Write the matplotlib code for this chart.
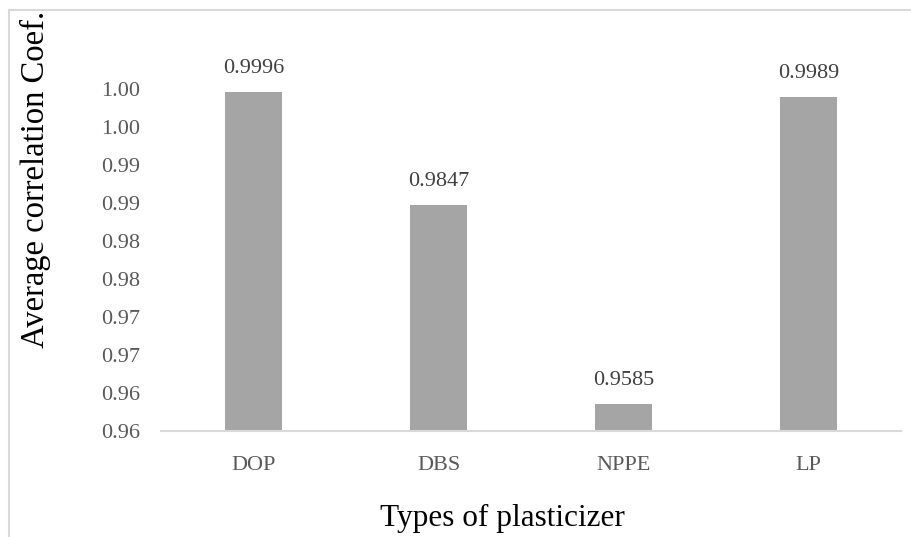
import matplotlib
matplotlib.use("Agg")
import matplotlib.pyplot as plt
from matplotlib.lines import Line2D

categories = ["DOP", "DBS", "NPPE", "LP"]
values = [0.9996, 0.9847, 0.9585, 0.9989]
value_labels = ["0.9996", "0.9847", "0.9585", "0.9989"]
y_ticks = [0.955, 0.960, 0.965, 0.970, 0.975, 0.980, 0.985, 0.990, 0.995, 1.000]
y_tick_labels = ["0.96", "0.96", "0.97", "0.97", "0.98", "0.98", "0.99", "0.99", "1.00", "1.00"]

W, H = 911, 537
fig = plt.figure(figsize=(W / 100, H / 100), dpi=100)
fig.patch.set_facecolor("white")

serif = ["Liberation Serif", "DejaVu Serif"]

# outer chart border (left and top visible)
fig.add_artist(Line2D([9 / W, 9 / W], [0, 1 - 10 / H], transform=fig.transFigure,
                      color="#d9d9d9", lw=1.5))
fig.add_artist(Line2D([9 / W, 1], [1 - 10 / H, 1 - 10 / H], transform=fig.transFigure,
                      color="#d9d9d9", lw=1.5))

ax_left, ax_right = 161, 901
ax_bottom_px, ax_top_px = 431, 89
ax = fig.add_axes([ax_left / W, 1 - ax_bottom_px / H,
                   (ax_right - ax_left) / W, (ax_bottom_px - ax_top_px) / H])

x = list(range(len(categories)))
ax.bar(x, values, width=0.313, color="#a5a5a5", zorder=2, bottom=0)
ax.set_xlim(-0.5, len(categories) - 0.5)
ax.set_ylim(y_ticks[0], y_ticks[-1])

for xi, v, lab in zip(x, values, value_labels):
    ax.annotate(lab, (xi, v), xytext=(0, 13.7), textcoords="offset points",
                ha="center", va="baseline", fontsize=16, color="#404040",
                family=serif, annotation_clip=False)

ax.set_yticks(y_ticks)
ax.set_yticklabels(y_tick_labels, family=serif, fontsize=16, color="#595959")
ax.set_xticks(x)
ax.set_xticklabels(categories, family=serif, fontsize=16, color="#595959")
ax.tick_params(axis="y", length=0, pad=15)
ax.tick_params(axis="x", length=0, pad=18)

for s in ["top", "right", "left"]:
    ax.spines[s].set_visible(False)
ax.spines["bottom"].set_color("#d9d9d9")
ax.spines["bottom"].set_linewidth(1.5)
ax.set_facecolor("none")

fig.text(502 / W, 1 - 518 / H, "Types of plasticizer", ha="center", va="center",
         fontsize=22.5, family=serif, color="black")
fig.text(35 / W, 1 - 179 / H, "Average correlation Coef.", ha="center", va="center",
         rotation=90, fontsize=23.5, family=serif, color="black")

fig.savefig("out.png", dpi=100, facecolor="white")
